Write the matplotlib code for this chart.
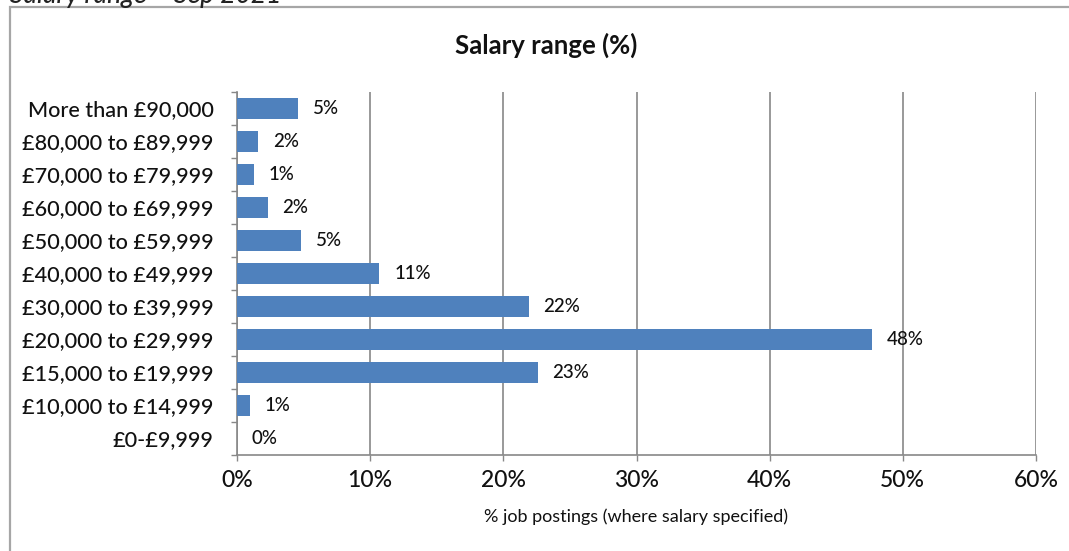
import matplotlib
matplotlib.use("Agg")
import matplotlib.pyplot as plt
from matplotlib.patches import Rectangle

categories = ["£0-£9,999", "£10,000 to £14,999", "£15,000 to £19,999", "£20,000 to £29,999",
              "£30,000 to £39,999", "£40,000 to £49,999", "£50,000 to £59,999",
              "£60,000 to £69,999", "£70,000 to £79,999", "£80,000 to £89,999",
              "More than £90,000"]
values = [0.0, 1.0, 22.6, 47.7, 21.9, 10.7, 4.8, 2.3, 1.3, 1.6, 4.6]
labels = ["0%", "1%", "23%", "48%", "22%", "11%", "5%", "2%", "1%", "2%", "5%"]
xticks = [0, 10, 20, 30, 40, 50, 60]
xtick_labels = ["0%", "10%", "20%", "30%", "40%", "50%", "60%"]

plt.rcParams['font.family'] = ['Lato', 'DejaVu Sans']
plt.rcParams['font.weight'] = 500

fig = plt.figure(figsize=(10.69, 5.51), dpi=100)
fig.patch.set_facecolor("white")

# outer frame of the embedded chart
fig.add_artist(Rectangle((10/1069, -0.1), 1.2, 1 - 7/551 + 0.1, transform=fig.transFigure,
                         fill=False, edgecolor="#a6a6a6", linewidth=1.6))
fig.text(10/1069, 1 - 3/551, "Salary range \u2013 Sep 2021", fontsize=19, style="italic",
         ha="left", va="baseline", color="#222222")

ax = fig.add_axes([237/1069, 1 - 455/551, (1036 - 237)/1069, (455 - 92)/551])
y = list(range(len(categories)))
ax.barh(y, values, height=0.66, color="#4F81BD", zorder=3)
for yi, v, lab in zip(y, values, labels):
    ax.text(v + 1.1, yi, lab, va="center", ha="left", fontsize=13.5, color="#111111", zorder=4)

ax.set_xlim(0, 60)
ax.set_ylim(-0.5, 10.5)
ax.set_xticks(xticks)
ax.set_xticklabels(xtick_labels, fontsize=16.5, color="#111111")
ax.set_yticks(y)
ax.set_yticklabels(categories, fontsize=15.6, color="#111111")
ax.set_yticks([i - 0.5 for i in range(len(categories) + 1)], minor=True)
ax.tick_params(axis="y", which="major", length=0, pad=17)
ax.tick_params(axis="y", which="minor", length=4, color="#888888", width=1)
ax.tick_params(axis="x", length=4, color="#888888", width=1, pad=7)
ax.grid(axis="x", color="#888888", linewidth=1.2, zorder=0)
for s in ["top", "right"]:
    ax.spines[s].set_visible(False)
ax.spines["left"].set_color("#888888")
ax.spines["bottom"].set_color("#888888")
ax.spines["left"].set_linewidth(1.2)
ax.spines["bottom"].set_linewidth(1.2)
ax.set_xlabel("% job postings (where salary specified)", fontsize=13, labelpad=12, color="#111111")

fig.text(546/1069, 1 - 45/551, "Salary range (%)", fontsize=18.5, fontweight="bold",
         ha="center", va="center", color="#111111")

fig.savefig("out.png", dpi=100)
